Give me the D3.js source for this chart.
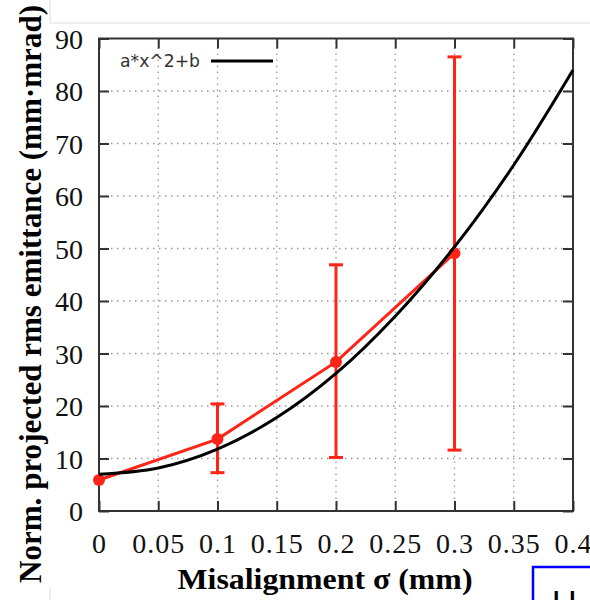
<!DOCTYPE html>
<html>
<head>
<meta charset="utf-8">
<script src="https://cdn.jsdelivr.net/npm/d3@7"></script>
<style>
  html, body { margin: 0; padding: 0; background: #fff; }
  svg { display: block; }
</style>
</head>
<body>
<script>
// ---- data ----
const sigma = [0, 0.1, 0.2, 0.3];
const emittance = [5.9, 13.7, 28.4, 49.1];
const errLow = [5.9, 7.3, 10.2, 11.6];
const errHigh = [5.9, 20.4, 46.9, 86.5];
// fitted curve a*x^2+b
const fitX = [0, 0.05, 0.1, 0.15, 0.2, 0.25, 0.3, 0.35, 0.4];
const fitY = [7.0, 8.2, 11.8, 17.8, 26.2, 37.1, 50.3, 65.9, 84.0];
const xTicks = [0, 0.05, 0.1, 0.15, 0.2, 0.25, 0.3, 0.35, 0.4];
const xTickLabels = ["0", "0.05", "0.1", "0.15", "0.2", "0.25", "0.3", "0.35", "0.4"];
const yTicks = [0, 10, 20, 30, 40, 50, 60, 70, 80, 90];
const legendLabel = "a*x^2+b";
const xTitle = "Misalignment σ (mm)";
const yTitle = "Norm. projected rms emittance (mm·mrad)";

// ---- layout ----
const W = 590, H = 600;
const L = 99, R = 573, T = 38.5, B = 511;
const RED = "#ff2418";

const svg = d3.select("body").append("svg").attr("width", W).attr("height", H);

const x = d3.scaleLinear().domain([0, 0.4]).range([L, R]);
const y = d3.scaleLinear().domain([0, 90]).range([B, T]);

// slide artefacts: thin gray border lines
svg.append("path").attr("d", `M50,0V23H590`).attr("fill", "none").attr("stroke", "#ddd").attr("stroke-width", 1);
svg.append("path").attr("d", `M50,588V600`).attr("fill", "none").attr("stroke", "#ddd").attr("stroke-width", 1);

// grid
const grid = svg.append("g").attr("stroke", "#999").attr("stroke-width", 1.3).attr("stroke-dasharray", "1.5,4.5");
xTicks.slice(1, -1).forEach(t => {
  grid.append("line").attr("x1", x(t)).attr("x2", x(t)).attr("y1", B).attr("y2", T);
});
yTicks.slice(1, -1).forEach(t => {
  grid.append("line").attr("x1", L).attr("x2", R).attr("y1", y(t)).attr("y2", y(t));
});

// axes with inward ticks
const fontSerif = "'Liberation Serif', 'Times New Roman', serif";
const axB = d3.axisBottom(x).tickValues(xTicks).tickFormat((d, i) => xTickLabels[i]).tickSizeInner(-10).tickSizeOuter(0).tickPadding(22);
const axT = d3.axisTop(x).tickValues(xTicks).tickFormat("").tickSizeInner(-10).tickSizeOuter(0);
const axL = d3.axisLeft(y).tickValues(yTicks).tickSizeInner(-10).tickSizeOuter(0).tickPadding(16);
const axR = d3.axisRight(y).tickValues(yTicks).tickFormat("").tickSizeInner(-10).tickSizeOuter(0);

function styleAxis(g) {
  g.select(".domain").remove();
  g.selectAll(".tick line").attr("stroke", "#333").attr("stroke-width", 2);
  g.selectAll("text").attr("fill", "#111").style("font-family", fontSerif).style("font-size", "28px");
}
svg.append("g").attr("transform", `translate(0,${B})`).call(axB).call(styleAxis)
  .selectAll("text").style("letter-spacing", "1px");
svg.append("g").attr("transform", `translate(0,${T})`).call(axT).call(styleAxis);
svg.append("g").attr("transform", `translate(${L},0)`).call(axL).call(styleAxis)
  .selectAll("text").attr("dy", "0.35em");
svg.append("g").attr("transform", `translate(${R},0)`).call(axR).call(styleAxis);

// frame
svg.append("rect").attr("x", L).attr("y", T).attr("width", R - L).attr("height", B - T)
  .attr("fill", "none").attr("stroke", "#333").attr("stroke-width", 2);

// red data: error bars, line, markers
const eg = svg.append("g").attr("stroke", RED).attr("stroke-width", 3);
sigma.forEach((s, i) => {
  if (errHigh[i] - errLow[i] < 0.5) return;
  eg.append("line").attr("x1", x(s)).attr("x2", x(s)).attr("y1", y(errLow[i])).attr("y2", y(errHigh[i]));
  eg.append("line").attr("x1", x(s) - 7).attr("x2", x(s) + 7).attr("y1", y(errLow[i])).attr("y2", y(errLow[i]));
  eg.append("line").attr("x1", x(s) - 7).attr("x2", x(s) + 7).attr("y1", y(errHigh[i])).attr("y2", y(errHigh[i]));
});
const dataLine = d3.line().x((d, i) => x(sigma[i])).y(d => y(d));
svg.append("path").attr("d", dataLine(emittance)).attr("fill", "none").attr("stroke", RED).attr("stroke-width", 3);
svg.append("g").selectAll("circle").data(emittance).join("circle")
  .attr("cx", (d, i) => x(sigma[i])).attr("cy", d => y(d)).attr("r", 6).attr("fill", RED);

// fit curve
const fitLine = d3.line().x((d, i) => x(fitX[i])).y(d => y(d)).curve(d3.curveCatmullRom.alpha(0.5));
svg.append("path").attr("d", fitLine(fitY)).attr("fill", "none").attr("stroke", "#000").attr("stroke-width", 3);

// legend
svg.append("text").attr("x", 120).attr("y", 67).text(legendLabel)
  .attr("textLength", 80).attr("lengthAdjust", "spacingAndGlyphs")
  .style("font-family", "'DejaVu Sans', sans-serif").style("font-size", "18px").attr("fill", "#333");
svg.append("line").attr("x1", 211).attr("x2", 273).attr("y1", 61).attr("y2", 61).attr("stroke", "#000").attr("stroke-width", 3);

// axis titles
svg.append("text").attr("x", 325).attr("y", 589).attr("text-anchor", "middle").text(xTitle)
  .attr("textLength", 295).attr("lengthAdjust", "spacingAndGlyphs")
  .style("font-family", fontSerif).style("font-weight", "bold").style("font-size", "29px").attr("fill", "#000");
svg.append("text").attr("transform", `translate(41,294) rotate(-90)`).attr("text-anchor", "middle").text(yTitle)
  .attr("textLength", 578).attr("lengthAdjust", "spacingAndGlyphs")
  .style("font-family", fontSerif).style("font-weight", "bold").style("font-size", "31px").attr("fill", "#000");

// partial blue box at lower right (slide artefact)
svg.append("path").attr("d", "M533,600V567H590").attr("fill", "none").attr("stroke", "#0000ff").attr("stroke-width", 2.5);
svg.append("text").attr("x", 552).attr("y", 614).text("U")
  .style("font-family", "'Liberation Sans', sans-serif").style("font-size", "34px").attr("fill", "#000");
</script>
</body>
</html>
